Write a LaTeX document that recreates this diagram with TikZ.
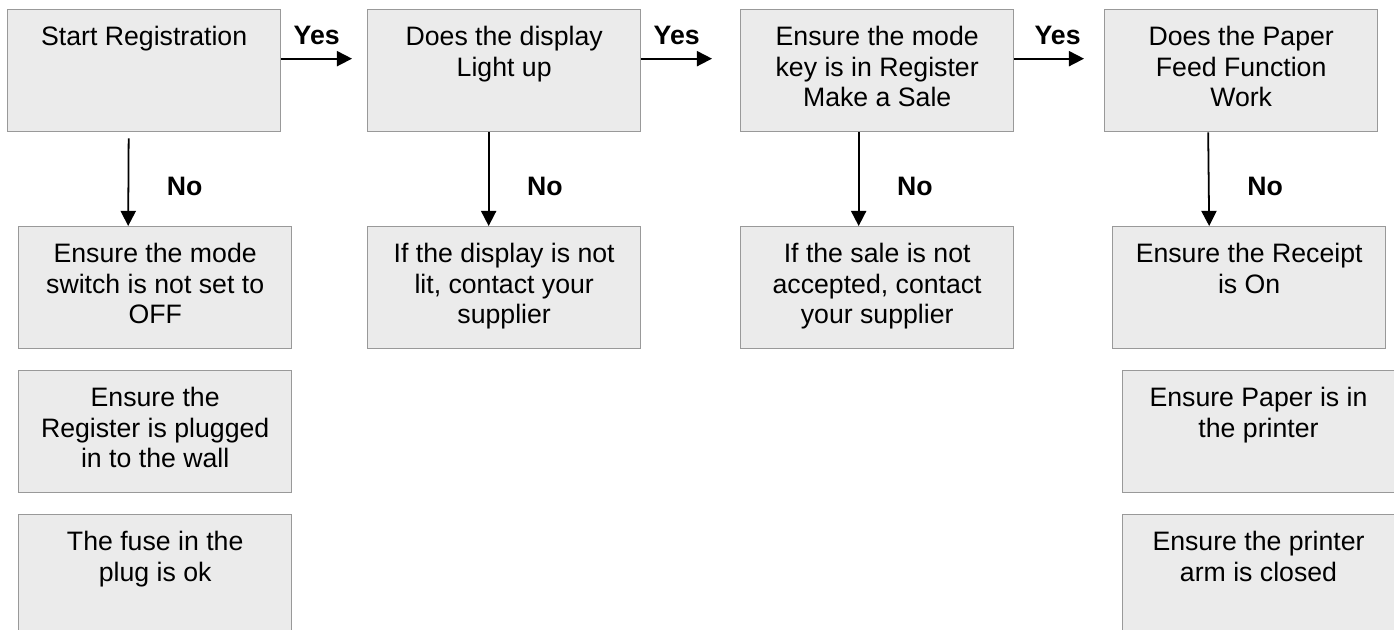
\documentclass[tikz,border=0pt]{standalone}
\usepackage{fontspec}
\setmainfont{Liberation Sans}
\usetikzlibrary{arrows.meta,calc}
\definecolor{boxfill}{RGB}{235,235,235}
\definecolor{boxline}{RGB}{153,153,153}
\tikzset{
  box/.style={draw=boxline, fill=boxfill, line width=0.6pt, anchor=north west,
    minimum width=122.85pt, minimum height=54.9pt, inner sep=0pt},
  txt/.style={anchor=north, align=center, inner sep=0pt, font=\fontsize{12}{13.8}\selectfont},
  arr/.style={line width=0.8pt, -{Triangle[length=6.8pt,width=6.8pt]}},
  lbl/.style={inner sep=0pt, font=\fontsize{12}{13.8}\selectfont\bfseries}
}

\begin{document}
\begin{tikzpicture}[x=0.45pt,y=-0.45pt]
  \useasboundingbox (0,0) rectangle (1394,629);

  % top row
  \node[box] (start) at (7,9) {};
  \node[box] (display) at (367,9) {};
  \node[box] (modekey) at (740,9) {};
  \node[box] (paperfeed) at (1104,9) {};
  % second row
  \node[box] (modesw) at (18,226) {};
  \node[box] (notlit) at (367,226) {};
  \node[box] (nosale) at (740,226) {};
  \node[box] (receipt) at (1112,226) {};
  % checks below
  \node[box] (plugged) at (18,370) {};
  \node[box] (fuse) at (18,514) {};
  \node[box, minimum width=126pt] (paperin) at (1122,370) {};
  \node[box, minimum width=126pt] (arm) at (1122,514) {};

  \node[txt] (startT) at ($(start.north)+(0,16.7)$) {Start Registration};
  \node[txt] (displayT) at ($(display.north)+(0,16.7)$) {Does the display\\Light up};
  \node[txt] (modekeyT) at ($(modekey.north)+(0,16.7)$) {Ensure the mode\\key is in Register\\Make a Sale};
  \node[txt] (paperfeedT) at ($(paperfeed.north)+(0,16.7)$) {Does the Paper\\Feed Function\\Work};
  \node[txt] (modeswT) at ($(modesw.north)+(0,16.7)$) {Ensure the mode\\switch is not set to\\OFF};
  \node[txt] (notlitT) at ($(notlit.north)+(0,16.7)$) {If the display is not\\lit, contact your\\supplier};
  \node[txt] (nosaleT) at ($(nosale.north)+(0,16.7)$) {If the sale is not\\accepted, contact\\your supplier};
  \node[txt] (receiptT) at ($(receipt.north)+(0,16.7)$) {Ensure the Receipt\\is On};
  \node[txt] (pluggedT) at ($(plugged.north)+(0,16.7)$) {Ensure the\\Register is plugged\\in to the wall};
  \node[txt] (fuseT) at ($(fuse.north)+(0,16.7)$) {The fuse in the\\plug is ok};
  \node[txt] (paperinT) at ($(paperin.north west)+(136.5,16.7)$) {Ensure Paper is in\\the printer};
  \node[txt] (armT) at ($(arm.north west)+(136.5,16.7)$) {Ensure the printer\\arm is closed};

  % yes arrows
  \draw[arr] ($(start.east)+(0,-12)$) -- ($(display.west)+(-15,-12)$)
    node[lbl, midway, anchor=base, yshift=6.3pt] (yes1) {Yes};
  \draw[arr] ($(display.east)+(0,-12)$) -- ($(modekey.west)+(-28,-12)$)
    node[lbl, midway, anchor=base, yshift=6.3pt] (yes2) {Yes};
  \draw[arr] ($(modekey.east)+(0,-12)$) -- ($(paperfeed.west)+(-20,-12)$)
    node[lbl, midway, anchor=base, yshift=6.3pt, xshift=3.8pt] (yes3) {Yes};

  % no arrows
  \draw[arr] ($(start.south)+(-15.5,6)$) -- ($(modesw.north)+(-27,0)$)
    node[lbl, pos=0.65, anchor=base west, xshift=16.9pt] (no1) {No};
  \draw[arr] ($(display.south)+(-15.5,0)$) -- ($(notlit.north)+(-15.5,0)$)
    node[lbl, pos=0.67, anchor=base west, xshift=16.9pt] (no2) {No};
  \draw[arr] ($(modekey.south)+(-18.5,0)$) -- ($(nosale.north)+(-18.5,0)$)
    node[lbl, pos=0.67, anchor=base west, xshift=16.9pt] (no3) {No};
  \draw[arr] ($(paperfeed.south)+(-33,0)$) -- ($(receipt.north)+(-40,0)$)
    node[lbl, pos=0.67, anchor=base west, xshift=16.9pt] (no4) {No};

\end{tikzpicture}
\end{document}
